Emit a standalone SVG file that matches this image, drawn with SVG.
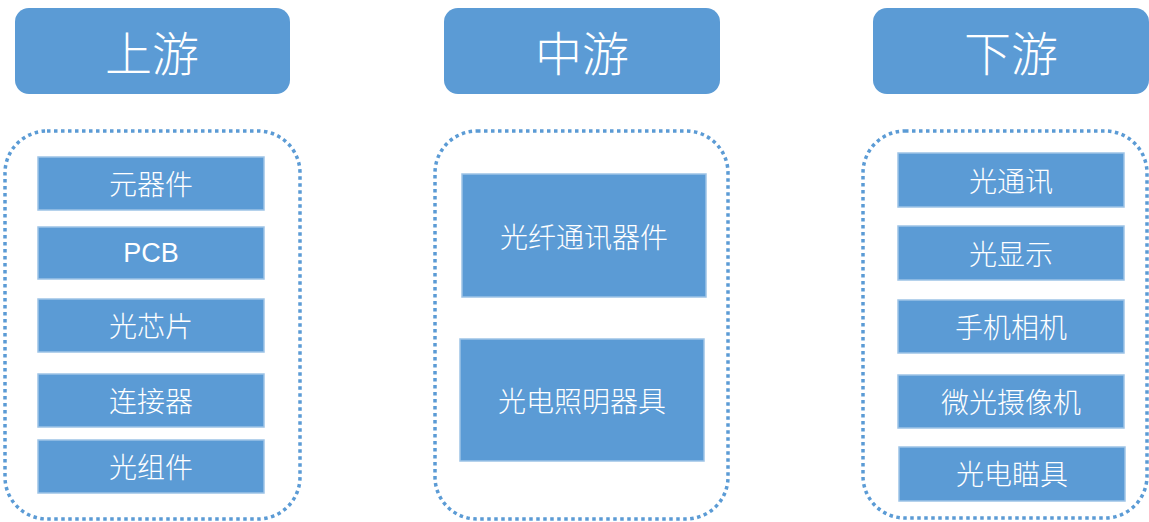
<svg xmlns="http://www.w3.org/2000/svg" width="1149" height="522" viewBox="0 0 1149 522">
<style>
.hdr{fill:#5B9BD5;}
.ht{fill:#fff;font-family:"Noto Sans CJK SC","Noto Sans",sans-serif;font-size:47px;font-weight:300;text-anchor:middle;dominant-baseline:central;}
.box{fill:#5B9BD5;stroke:#9DC3E6;stroke-width:1.5;}
.bt{fill:#fff;font-family:"Noto Sans CJK SC","Noto Sans",sans-serif;font-size:28px;font-weight:300;text-anchor:middle;dominant-baseline:central;}
.lat{font-family:"Liberation Sans",Arial,sans-serif;font-size:27px;font-weight:400;}
.grp{fill:none;stroke:#5B9BD5;stroke-width:3.5;stroke-dasharray:3.5 3.5;}
</style>
<rect width="1149" height="522" fill="#fff"/>
<g id="hdr-up"><rect class="hdr" x="15" y="8" width="275" height="86" rx="14"/><text class="ht" x="152" y="50">上游</text></g>
<g id="hdr-mid"><rect class="hdr" x="444" y="8" width="276" height="86" rx="14"/><text class="ht" x="582" y="50">中游</text></g>
<g id="hdr-down"><rect class="hdr" x="873" y="8" width="276" height="86" rx="14"/><text class="ht" x="1011" y="50">下游</text></g>
<g id="grp-up"><rect class="grp" x="5" y="131" width="295" height="388" rx="42"/></g>
<g id="grp-mid"><rect class="grp" x="435" y="131" width="293" height="388" rx="42"/></g>
<g id="grp-down"><rect class="grp" x="863" y="131" width="284" height="387" rx="42"/></g>
<g id="n-yuanqijian"><rect class="box" x="38" y="157" width="226" height="53"/><text class="bt" x="151" y="183">元器件</text></g>
<g id="n-pcb"><rect class="box" x="38" y="227" width="226" height="52"/><text class="bt lat" x="151" y="253">PCB</text></g>
<g id="n-guangxinpian"><rect class="box" x="38" y="299" width="226" height="53"/><text class="bt" x="151" y="325">光芯片</text></g>
<g id="n-lianjieqi"><rect class="box" x="38" y="374" width="226" height="53"/><text class="bt" x="151" y="400">连接器</text></g>
<g id="n-guangzujian"><rect class="box" x="38" y="440" width="226" height="53"/><text class="bt" x="151" y="466">光组件</text></g>
<g id="n-guangxian"><rect class="box" x="462" y="174" width="244" height="123"/><text class="bt" x="584" y="236">光纤通讯器件</text></g>
<g id="n-zhaoming"><rect class="box" x="460" y="339" width="244" height="122"/><text class="bt" x="582" y="400">光电照明器具</text></g>
<g id="n-guangtongxun"><rect class="box" x="898" y="153" width="226" height="54"/><text class="bt" x="1011" y="180">光通讯</text></g>
<g id="n-guangxianshi"><rect class="box" x="898" y="226" width="226" height="54"/><text class="bt" x="1011" y="253">光显示</text></g>
<g id="n-shouji"><rect class="box" x="898" y="300" width="226" height="53"/><text class="bt" x="1011" y="326">手机相机</text></g>
<g id="n-weiguang"><rect class="box" x="898" y="375" width="226" height="53"/><text class="bt" x="1011" y="401">微光摄像机</text></g>
<g id="n-miaoju"><rect class="box" x="899" y="447" width="226" height="54"/><text class="bt" x="1012" y="473">光电瞄具</text></g>
<g id="connectors"></g>
</svg>
